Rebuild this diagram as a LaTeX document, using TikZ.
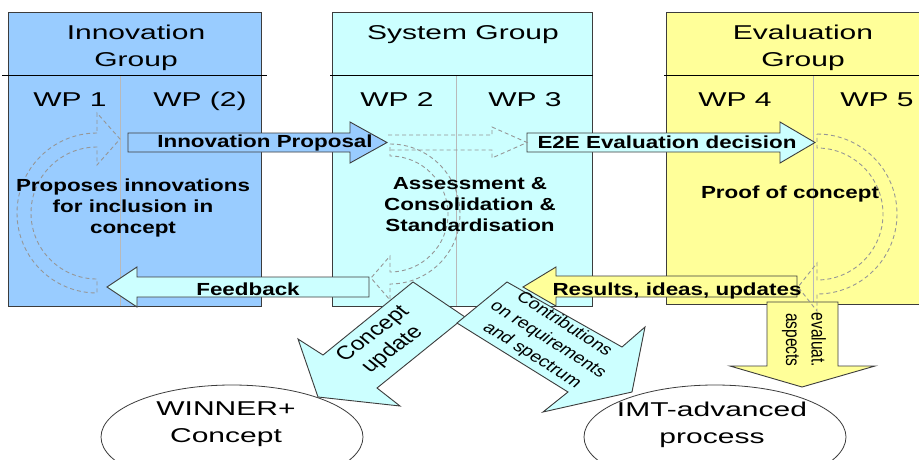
\documentclass[tikz,border=0pt]{standalone}
\usepackage{fontspec}
\setmainfont{Liberation Sans}
\newfontfamily\widefont[FakeStretch=1.5]{Liberation Sans}
\newfontfamily\labelfont[FakeStretch=1.28]{Liberation Sans}
\usetikzlibrary{shapes.geometric}

\definecolor{innoblue}{RGB}{153,204,255}
\definecolor{syscyan}{RGB}{204,255,255}
\definecolor{evalyellow}{RGB}{255,255,153}
\definecolor{edgegray}{RGB}{60,60,60}
\definecolor{dashgray}{RGB}{150,150,150}

\tikzset{
  groupbox/.style={draw=edgegray, line width=1pt},
  wpline/.style={draw=gray!55, line width=0.8pt},
  headline/.style={draw=black, line width=0.9pt},
  blockarrow/.style={draw=edgegray, line width=0.9pt},
  loopdash/.style={draw=dashgray, line width=0.9pt, dash pattern=on 4pt off 3pt},
  bigtext/.style={font=\widefont\fontsize{20}{27}\selectfont, align=center, inner sep=0pt},
  arrowtext/.style={font=\labelfont\bfseries\fontsize{17.5}{21}\selectfont, align=center, inner sep=0pt},
  tilttext/.style={font=\fontsize{19}{22}\selectfont, align=center, inner sep=0pt},
  smalltilt/.style={font=\fontsize{15.5}{20}\selectfont, align=center, inner sep=0pt},
  outcome/.style={ellipse, draw=edgegray, line width=0.8pt, minimum width=262pt, minimum height=104pt, inner sep=0pt}
}

\begin{document}
\begin{tikzpicture}[x=1pt, y=-1pt]
\useasboundingbox (0,0) rectangle (919,459);
\fill[white] (0,0) rectangle (919,459);
% the three groups
\filldraw[groupbox, fill=innoblue] (8,12) rectangle (261,306);
\filldraw[groupbox, fill=syscyan] (332,12) rectangle (592,306);
\filldraw[groupbox, fill=evalyellow] (666,12) rectangle (930,304);
\draw[wpline] (120,75) -- (120,306);
\draw[wpline] (456,75) -- (456,306);
\draw[wpline] (813,75) -- (813,304);
\draw[headline] (2,75) -- (267,75);
\draw[headline] (330,75) -- (593,75);
\draw[headline] (664,75) -- (919,75);
% block arrows
\filldraw[blockarrow, fill=innoblue] (128,133) -- (350,133) -- (350,122) -- (387,142.5)
  -- (350,163) -- (350,152) -- (128,152) -- cycle;
\filldraw[blockarrow, fill=syscyan] (527,133) -- (780,133) -- (780,122) -- (815,142.5)
  -- (780,163) -- (780,152) -- (527,152) -- cycle;
\filldraw[blockarrow, fill=syscyan] (369,277) -- (137,277) -- (137,267) -- (107,287)
  -- (137,307) -- (137,297) -- (369,297) -- cycle;
\filldraw[blockarrow, fill=evalyellow] (797,276) -- (556,276) -- (556,267) -- (523,287)
  -- (556,306) -- (556,297) -- (797,297) -- cycle;
\filldraw[blockarrow, fill=evalyellow] (767,302) -- (838,302) -- (838,366) -- (875,366)
  -- (802,387) -- (730,366) -- (767,366) -- cycle;
\filldraw[blockarrow, fill=syscyan] (413,282) -- (323,355) -- (298,339) -- (318,397)
  -- (400,406) -- (377,388) -- (465,317) -- cycle;
\filldraw[blockarrow, fill=syscyan] (507,282) -- (622,347) -- (645,327) -- (632,392)
  -- (543,412) -- (568,392) -- (457,323) -- cycle;
% dashed work loops
\draw[loopdash] (97,133) arc[start angle=-90, end angle=-270, radius=80] -- (97,279)
  arc[start angle=90, end angle=270, radius=66] -- (97,165) -- (120,139) -- (97,113) -- cycle;
\draw[loopdash] (390,144) arc[start angle=-90, end angle=90, radius=70] -- (390,300)
  -- (371,278) -- (390,256) -- (390,272) arc[start angle=90, end angle=-90, radius=58] -- cycle;
\draw[loopdash] (817,134) arc[start angle=-90, end angle=90, radius=80] -- (817,311)
  -- (798,287) -- (817,263) -- (817,280) arc[start angle=90, end angle=-90, radius=66] -- cycle;
\draw[loopdash] (388,135) -- (492,135) -- (492,127) -- (527,142.5) -- (492,158)
  -- (492,150) -- (388,150);
% outcomes
\node[outcome] (winner) at (232,437) {};
\node[outcome] (imt) at (715,437) {};
% texts
\node[bigtext, anchor=north] (inntitle) at (136,25) {Innovation\\Group};
\node[bigtext, anchor=base] (systitle) at (463,39.5) {System Group};
\node[bigtext, anchor=north] (evaltitle) at (803,25) {Evaluation\\Group};
\foreach \x/\t/\n in {70/WP 1/wpa, 200/WP (2)/wpb, 397/WP 2/wpc, 525/WP 3/wpd, 735/WP 4/wpe, 877/WP 5/wpf}
  \node[bigtext, anchor=base] (\n) at (\x,106) {\t};
\node[arrowtext, anchor=north] (proposes) at (133,179) {Proposes innovations\\for inclusion in\\concept};
\node[arrowtext, anchor=north] (assess) at (470,177) {Assessment \&\\Consolidation \&\\Standardisation};
\node[arrowtext, anchor=base] (proof) at (790,198) {Proof of concept};
\node[arrowtext, anchor=base] (proposal) at (265,147.5) {Innovation Proposal};
\node[arrowtext, anchor=base] (decision) at (667,148.5) {E2E Evaluation decision};
\node[arrowtext, anchor=base] (feedback) at (248,295) {Feedback};
\node[arrowtext, anchor=base] (results) at (677,295) {Results, ideas, updates};
\node[tilttext, xscale=1.28, rotate=44] (update) at (383,342) {Concept\\update};
\node[smalltilt, xscale=1.28, rotate=-39] (contrib) at (548,340) {Contributions\\on requirements\\and spectrum};
\node[smalltilt, xscale=1.28, rotate=-90] (aspects) at (804,340) {evaluat.\\aspects};
\node[bigtext, anchor=north] (winnertext) at (226,402) {WINNER+\\Concept};
\node[bigtext, anchor=north] (imttext) at (712,402) {IMT-advanced\\process};
\end{tikzpicture}
\end{document}
